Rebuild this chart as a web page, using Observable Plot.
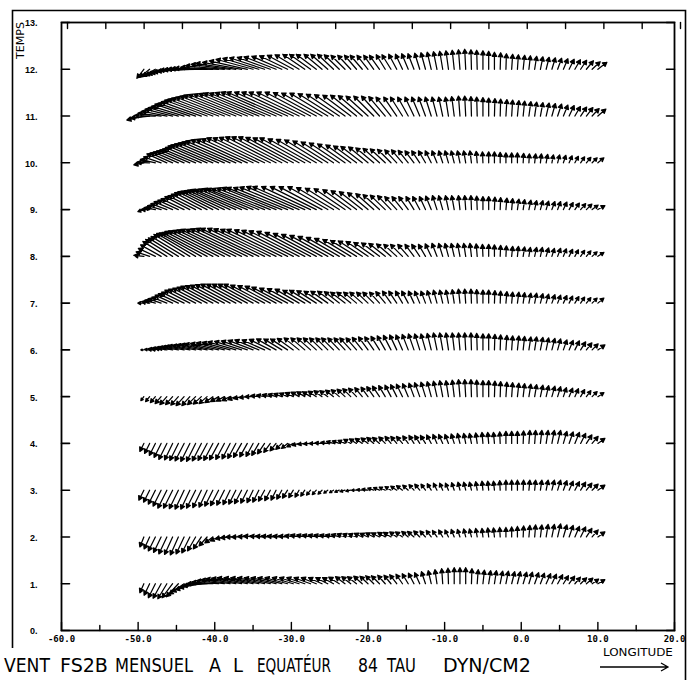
<!DOCTYPE html>
<html><head><meta charset="utf-8">
<script src="https://cdn.jsdelivr.net/npm/d3@7"></script>
<script src="https://cdn.jsdelivr.net/npm/@observablehq/plot@0.6"></script>
<style>body{margin:0;background:#fff}#chart{width:692px;height:680px}</style>
</head><body><div id="chart"></div>
<script>
// Longitudes of the vector tails (degrees east)
const lon = [-49.25,-48.5,-47.75,-47,-46.25,-45.5,-44.75,-44,-43.25,-42.5,-41.75,-41,-40.25,-39.5,-38.75,-38,-37.25,-36.5,-35.75,-35,
-34.25,-33.5,-32.75,-32,-31.25,-30.5,-29.75,-29,-28.25,-27.5,-26.75,-26,-25.25,-24.5,-23.75,-23,-22.25,-21.5,-20.75,-20,
-19.25,-18.5,-17.75,-17,-16.25,-15.5,-14.75,-14,-13.25,-12.5,-11.75,-11,-10.25,-9.5,-8.75,-8,-7.25,-6.5,-5.75,-5,
-4.25,-3.5,-2.75,-2,-1.25,-0.5,0.25,1,1.75,2.5,3.25,4,4.75,5.5,6.25,7,7.75,8.5,9.25,10];
const months = [1,2,3,4,5,6,7,8,9,10,11,12];
// Wind stress components (dyn/cm2): u eastward, v northward, one array per month
const u1 = [-0.4,-0.55,-0.7,-0.8,-0.9,-1.05,-1.2,-1.5,-1.8,-2.0,-2.2,-2.4,-2.6,-2.7,-2.8,-2.9,-3.0,-3.0,-3.0,-2.9,-2.8,-2.7,-2.6,-2.5,-2.4,-2.25,-2.1,-1.95,-1.8,-1.65,-1.5,-1.35,-1.2,-1.1,-1.05,-0.95,-0.9,-0.9,-0.85,-0.8,-0.8,-0.8,-0.75,-0.7,-0.7,-0.65,-0.6,-0.55,-0.5,-0.4,-0.3,-0.2,-0.1,-0.05,0,0,0,0.05,0.1,0.15,0.2,0.2,0.25,0.25,0.3,0.3,0.35,0.35,0.4,0.4,0.45,0.45,0.5,0.5,0.55,0.55,0.6,0.65,0.65,0.7];
const v1 = [-0.9,-1.15,-1.4,-1.45,-1.5,-1.4,-1.3,-1.05,-0.8,-0.6,-0.4,-0.2,0,0.15,0.3,0.4,0.5,0.55,0.6,0.6,0.6,0.6,0.6,0.6,0.6,0.6,0.6,0.6,0.6,0.6,0.6,0.6,0.6,0.6,0.65,0.7,0.7,0.7,0.75,0.75,0.8,0.8,0.85,0.85,0.9,0.95,1.0,1.05,1.1,1.2,1.3,1.4,1.5,1.55,1.6,1.6,1.6,1.5,1.4,1.35,1.3,1.3,1.25,1.25,1.2,1.2,1.15,1.15,1.1,1.05,1.0,0.95,0.9,0.8,0.75,0.65,0.6,0.55,0.45,0.4];
const u2 = [-0.4,-0.55,-0.7,-0.75,-0.8,-0.8,-0.8,-0.8,-0.8,-0.8,-0.8,-0.8,-0.8,-0.85,-0.9,-0.95,-1.0,-1.0,-0.95,-0.95,-0.9,-0.9,-0.9,-0.9,-0.9,-0.9,-0.85,-0.85,-0.8,-0.8,-0.8,-0.8,-0.8,-0.8,-0.8,-0.8,-0.8,-0.8,-0.8,-0.8,-0.8,-0.8,-0.75,-0.75,-0.7,-0.7,-0.65,-0.65,-0.6,-0.55,-0.5,-0.45,-0.4,-0.35,-0.3,-0.25,-0.2,-0.2,-0.15,-0.1,-0.1,-0.1,-0.05,0,0,0,0.05,0.1,0.1,0.15,0.2,0.25,0.3,0.35,0.4,0.45,0.5,0.55,0.6,0.7];
const v2 = [-1.0,-1.2,-1.4,-1.55,-1.7,-1.75,-1.8,-1.7,-1.6,-1.4,-1.2,-0.9,-0.6,-0.4,-0.2,-0.1,0,0,0.05,0.1,0.1,0.1,0.1,0.1,0.1,0.1,0.15,0.2,0.2,0.2,0.2,0.2,0.2,0.2,0.25,0.3,0.3,0.3,0.35,0.35,0.4,0.4,0.45,0.45,0.5,0.5,0.55,0.55,0.6,0.6,0.65,0.65,0.7,0.7,0.75,0.75,0.8,0.8,0.85,0.85,0.9,0.9,0.95,0.95,1.0,1.05,1.1,1.15,1.2,1.2,1.25,1.25,1.3,1.2,1.15,1.05,1.0,0.85,0.7,0.5];
const u3 = [-0.5,-0.6,-0.7,-0.8,-0.9,-0.9,-0.9,-0.9,-0.9,-0.9,-0.85,-0.8,-0.8,-0.8,-0.75,-0.7,-0.7,-0.7,-0.65,-0.6,-0.6,-0.6,-0.55,-0.5,-0.5,-0.5,-0.45,-0.4,-0.4,-0.4,-0.4,-0.4,-0.4,-0.4,-0.45,-0.5,-0.5,-0.5,-0.55,-0.6,-0.6,-0.6,-0.6,-0.6,-0.6,-0.6,-0.55,-0.5,-0.5,-0.45,-0.4,-0.35,-0.3,-0.3,-0.25,-0.2,-0.2,-0.2,-0.15,-0.1,-0.1,-0.1,-0.05,0,0,0,0.05,0.1,0.1,0.15,0.2,0.25,0.3,0.35,0.4,0.45,0.5,0.55,0.6,0.7];
const v3 = [-1.0,-1.2,-1.4,-1.6,-1.8,-1.8,-1.85,-1.9,-1.9,-1.8,-1.75,-1.7,-1.6,-1.55,-1.5,-1.45,-1.4,-1.35,-1.3,-1.25,-1.2,-1.1,-1.05,-1.0,-0.9,-0.8,-0.75,-0.7,-0.6,-0.5,-0.45,-0.4,-0.3,-0.25,-0.2,-0.15,-0.1,0,0.05,0.1,0.2,0.25,0.3,0.35,0.4,0.45,0.5,0.55,0.6,0.6,0.65,0.7,0.7,0.7,0.75,0.8,0.8,0.8,0.85,0.9,0.9,0.9,0.95,1.0,1.0,1.0,1.0,1.0,1.0,1.0,1.0,1.0,1.0,0.95,0.9,0.85,0.8,0.7,0.6,0.5];
const u4 = [-0.4,-0.5,-0.6,-0.7,-0.8,-0.8,-0.85,-0.9,-0.9,-0.9,-0.9,-0.9,-0.9,-0.9,-0.85,-0.8,-0.8,-0.8,-0.75,-0.7,-0.7,-0.7,-0.65,-0.6,-0.6,-0.6,-0.65,-0.7,-0.7,-0.7,-0.7,-0.7,-0.7,-0.7,-0.7,-0.7,-0.7,-0.7,-0.7,-0.7,-0.7,-0.7,-0.65,-0.6,-0.6,-0.6,-0.55,-0.5,-0.5,-0.5,-0.45,-0.4,-0.4,-0.35,-0.3,-0.25,-0.2,-0.2,-0.15,-0.1,-0.1,-0.1,-0.05,0,0,0,0.05,0.1,0.1,0.15,0.2,0.25,0.3,0.35,0.4,0.45,0.5,0.55,0.6,0.7];
const v4 = [-0.8,-1.0,-1.2,-1.4,-1.6,-1.65,-1.7,-1.75,-1.8,-1.8,-1.75,-1.7,-1.7,-1.65,-1.6,-1.55,-1.5,-1.4,-1.35,-1.3,-1.2,-1.05,-0.9,-0.75,-0.6,-0.5,-0.35,-0.2,-0.1,-0.05,0,0.05,0.1,0.2,0.25,0.3,0.4,0.45,0.5,0.55,0.6,0.6,0.65,0.7,0.7,0.7,0.75,0.8,0.8,0.8,0.85,0.9,0.9,0.9,0.95,1.0,1.0,1.0,1.05,1.1,1.1,1.1,1.15,1.2,1.2,1.2,1.25,1.3,1.3,1.3,1.3,1.3,1.3,1.2,1.15,1.1,1.0,0.85,0.7,0.5];
const u5 = [-0.3,-0.4,-0.5,-0.6,-0.7,-0.7,-0.75,-0.8,-0.8,-0.8,-0.8,-0.8,-0.8,-0.8,-0.8,-0.8,-0.8,-0.8,-0.8,-0.8,-0.8,-0.8,-0.8,-0.8,-0.8,-0.8,-0.8,-0.8,-0.8,-0.8,-0.8,-0.8,-0.8,-0.8,-0.8,-0.8,-0.8,-0.8,-0.75,-0.7,-0.7,-0.7,-0.65,-0.6,-0.6,-0.6,-0.55,-0.5,-0.5,-0.45,-0.4,-0.35,-0.3,-0.25,-0.2,-0.15,-0.1,-0.05,-0.05,0,0,0.05,0.05,0.1,0.1,0.15,0.15,0.2,0.2,0.25,0.25,0.3,0.3,0.3,0.35,0.35,0.4,0.45,0.5,0.6];
const v5 = [-0.4,-0.5,-0.6,-0.7,-0.8,-0.8,-0.85,-0.9,-0.9,-0.8,-0.75,-0.7,-0.6,-0.5,-0.45,-0.4,-0.3,-0.2,-0.1,0,0.1,0.15,0.2,0.25,0.3,0.35,0.4,0.45,0.5,0.5,0.55,0.6,0.6,0.65,0.7,0.75,0.8,0.85,0.9,0.95,1.0,1.05,1.1,1.15,1.2,1.25,1.3,1.35,1.4,1.45,1.5,1.55,1.6,1.6,1.65,1.7,1.7,1.7,1.65,1.6,1.6,1.55,1.5,1.45,1.4,1.35,1.3,1.25,1.2,1.15,1.1,1.05,1.0,0.9,0.85,0.8,0.7,0.6,0.5,0.4];
const u6 = [-0.3,-0.5,-0.75,-1.0,-1.2,-1.45,-1.7,-1.95,-2.2,-2.35,-2.5,-2.65,-2.8,-2.8,-2.8,-2.8,-2.8,-2.7,-2.6,-2.5,-2.4,-2.25,-2.1,-1.95,-1.8,-1.7,-1.6,-1.5,-1.4,-1.35,-1.3,-1.25,-1.2,-1.2,-1.15,-1.1,-1.1,-1.05,-1.0,-0.95,-0.9,-0.85,-0.8,-0.75,-0.7,-0.65,-0.6,-0.55,-0.5,-0.45,-0.4,-0.35,-0.3,-0.25,-0.2,-0.15,-0.1,-0.05,-0.05,0,0,0.05,0.05,0.1,0.1,0.15,0.15,0.2,0.2,0.25,0.25,0.3,0.3,0.35,0.4,0.45,0.5,0.55,0.6,0.7];
const v6 = [0,0.05,0.1,0.15,0.2,0.25,0.3,0.35,0.4,0.45,0.5,0.55,0.6,0.65,0.7,0.75,0.8,0.85,0.9,0.95,1.0,1.0,1.05,1.1,1.1,1.1,1.15,1.2,1.2,1.2,1.2,1.2,1.2,1.2,1.2,1.2,1.2,1.2,1.25,1.3,1.3,1.35,1.4,1.45,1.5,1.5,1.55,1.6,1.6,1.6,1.65,1.7,1.7,1.7,1.7,1.7,1.7,1.7,1.65,1.6,1.6,1.55,1.5,1.45,1.4,1.4,1.35,1.3,1.3,1.25,1.2,1.15,1.1,1.0,0.95,0.9,0.8,0.7,0.6,0.5];
const u7 = [-0.6,-0.8,-1.05,-1.3,-1.5,-1.75,-2.0,-2.25,-2.5,-2.7,-2.85,-3.0,-3.2,-3.3,-3.4,-3.45,-3.5,-3.5,-3.5,-3.5,-3.5,-3.4,-3.25,-3.1,-3.0,-2.8,-2.6,-2.4,-2.2,-2.1,-1.95,-1.8,-1.7,-1.6,-1.5,-1.45,-1.4,-1.3,-1.25,-1.15,-1.1,-1.0,-0.95,-0.85,-0.8,-0.7,-0.65,-0.55,-0.5,-0.45,-0.4,-0.35,-0.3,-0.25,-0.2,-0.15,-0.1,-0.05,-0.05,0,0,0.05,0.05,0.1,0.1,0.15,0.15,0.2,0.2,0.25,0.25,0.3,0.3,0.35,0.35,0.4,0.4,0.45,0.5,0.6];
const v7 = [0,0.15,0.3,0.45,0.6,0.8,0.95,1.1,1.3,1.4,1.5,1.6,1.7,1.75,1.8,1.85,1.9,1.9,1.9,1.9,1.9,1.8,1.75,1.7,1.6,1.5,1.45,1.4,1.3,1.3,1.25,1.2,1.2,1.2,1.15,1.1,1.1,1.1,1.1,1.1,1.1,1.1,1.15,1.2,1.2,1.2,1.2,1.2,1.2,1.2,1.25,1.3,1.3,1.3,1.35,1.4,1.4,1.4,1.35,1.3,1.3,1.25,1.2,1.15,1.1,1.1,1.05,1.0,1.0,0.95,0.9,0.85,0.8,0.75,0.7,0.65,0.6,0.55,0.5,0.5];
const u8 = [-1.0,-1.35,-1.7,-2.05,-2.4,-2.7,-3.0,-3.3,-3.6,-3.9,-4.2,-4.5,-4.8,-5.0,-5.15,-5.3,-5.5,-5.55,-5.65,-5.7,-5.8,-5.7,-5.65,-5.55,-5.5,-5.3,-5.15,-5.0,-4.8,-4.55,-4.3,-4.05,-3.8,-3.55,-3.3,-3.05,-2.8,-2.6,-2.4,-2.2,-2.0,-1.8,-1.65,-1.45,-1.3,-1.2,-1.05,-0.9,-0.8,-0.7,-0.6,-0.5,-0.4,-0.35,-0.3,-0.25,-0.2,-0.15,-0.1,-0.05,0,0,0.05,0.05,0.1,0.1,0.15,0.15,0.2,0.2,0.25,0.25,0.3,0.3,0.35,0.35,0.4,0.45,0.5,0.6];
const v8 = [0.1,0.45,0.8,1.15,1.5,1.7,1.85,2.0,2.2,2.3,2.35,2.4,2.5,2.55,2.6,2.65,2.7,2.7,2.75,2.8,2.8,2.8,2.75,2.7,2.7,2.65,2.6,2.55,2.5,2.4,2.3,2.2,2.1,2.0,1.9,1.8,1.7,1.6,1.55,1.5,1.4,1.35,1.3,1.25,1.2,1.2,1.2,1.2,1.2,1.2,1.25,1.3,1.3,1.3,1.3,1.3,1.3,1.3,1.25,1.2,1.2,1.15,1.1,1.05,1.0,1.0,0.95,0.9,0.9,0.9,0.85,0.8,0.8,0.75,0.7,0.65,0.6,0.55,0.45,0.4];
const u9 = [-0.6,-0.85,-1.1,-1.35,-1.6,-1.85,-2.05,-2.3,-2.5,-2.75,-3.0,-3.25,-3.5,-3.75,-4.0,-4.25,-4.5,-4.7,-4.85,-5.0,-5.2,-5.3,-5.35,-5.4,-5.5,-5.4,-5.35,-5.25,-5.2,-4.9,-4.6,-4.3,-4.0,-3.7,-3.4,-3.1,-2.8,-2.55,-2.3,-2.05,-1.8,-1.65,-1.5,-1.35,-1.2,-1.05,-0.95,-0.8,-0.7,-0.6,-0.55,-0.45,-0.4,-0.3,-0.25,-0.15,-0.1,-0.05,-0.05,0,0,0.05,0.05,0.1,0.1,0.15,0.15,0.2,0.2,0.25,0.25,0.3,0.3,0.35,0.4,0.45,0.5,0.55,0.6,0.7];
const v9 = [-0.2,0,0.2,0.4,0.6,0.8,0.95,1.1,1.3,1.4,1.55,1.7,1.8,1.85,1.9,1.95,2.0,2.0,2.05,2.1,2.1,2.1,2.15,2.2,2.2,2.2,2.25,2.3,2.3,2.3,2.3,2.3,2.3,2.2,2.15,2.1,2.0,1.9,1.8,1.7,1.6,1.5,1.45,1.4,1.3,1.3,1.3,1.3,1.3,1.3,1.35,1.4,1.4,1.4,1.4,1.4,1.4,1.4,1.35,1.3,1.3,1.25,1.2,1.15,1.1,1.05,1.0,0.95,0.9,0.9,0.85,0.8,0.8,0.75,0.7,0.65,0.6,0.55,0.45,0.4];
const u10 = [-1.0,-1.25,-1.5,-1.75,-2.0,-2.25,-2.5,-2.75,-3.0,-3.3,-3.6,-3.9,-4.2,-4.4,-4.6,-4.8,-5.0,-5.05,-5.1,-5.15,-5.2,-5.15,-5.1,-5.05,-5.0,-4.9,-4.75,-4.6,-4.5,-4.25,-4.0,-3.75,-3.5,-3.25,-3.0,-2.75,-2.5,-2.3,-2.15,-1.95,-1.8,-1.65,-1.5,-1.35,-1.2,-1.1,-1.0,-0.9,-0.8,-0.7,-0.6,-0.5,-0.4,-0.35,-0.3,-0.25,-0.2,-0.15,-0.1,-0.05,0,0,0,0,0,0,0.05,0.05,0.1,0.1,0.15,0.15,0.2,0.25,0.3,0.35,0.4,0.45,0.5,0.6];
const v10 = [-0.2,0.05,0.35,0.6,0.9,1.0,1.1,1.2,1.3,1.4,1.55,1.7,1.8,1.9,2.0,2.1,2.2,2.3,2.35,2.4,2.5,2.5,2.55,2.6,2.6,2.6,2.55,2.5,2.5,2.4,2.35,2.3,2.2,2.1,2.0,1.9,1.8,1.7,1.65,1.6,1.5,1.45,1.4,1.35,1.3,1.3,1.25,1.2,1.2,1.2,1.2,1.2,1.2,1.2,1.2,1.2,1.2,1.2,1.15,1.1,1.1,1.1,1.05,1.0,1.0,1.0,0.95,0.9,0.9,0.9,0.85,0.8,0.8,0.75,0.7,0.65,0.6,0.55,0.5,0.5];
const u11 = [-1.7,-1.9,-2.1,-2.3,-2.5,-2.75,-3.0,-3.25,-3.5,-3.75,-4.0,-4.25,-4.5,-4.7,-4.85,-5.0,-5.2,-5.3,-5.35,-5.4,-5.5,-5.5,-5.5,-5.5,-5.5,-5.3,-5.15,-5.0,-4.8,-4.55,-4.3,-4.05,-3.8,-3.55,-3.3,-3.05,-2.8,-2.6,-2.4,-2.2,-2.0,-1.8,-1.65,-1.5,-1.3,-1.2,-1.05,-0.9,-0.8,-0.7,-0.6,-0.5,-0.4,-0.3,-0.25,-0.15,-0.1,-0.05,-0.05,0,0,0.05,0.05,0.1,0.1,0.15,0.15,0.2,0.2,0.25,0.3,0.35,0.4,0.45,0.5,0.55,0.6,0.65,0.7,0.8];
const v11 = [-0.4,-0.2,0.05,0.3,0.5,0.7,0.85,1.0,1.2,1.3,1.45,1.6,1.7,1.8,1.9,2.0,2.1,2.15,2.2,2.25,2.3,2.3,2.35,2.4,2.4,2.4,2.4,2.4,2.4,2.4,2.35,2.3,2.3,2.25,2.2,2.15,2.1,2.1,2.05,2.0,2.0,2.0,1.95,1.9,1.9,1.9,1.9,1.9,1.9,1.9,1.9,1.9,1.9,1.9,1.95,2.0,2.0,1.95,1.9,1.85,1.8,1.75,1.7,1.65,1.6,1.55,1.5,1.45,1.4,1.35,1.3,1.25,1.2,1.1,1.05,0.95,0.9,0.85,0.75,0.7];
const u12 = [-0.7,-1.0,-1.3,-1.6,-1.9,-2.2,-2.5,-2.7,-3.0,-3.2,-3.4,-3.6,-3.8,-3.8,-3.9,-3.9,-4.0,-3.9,-3.8,-3.7,-3.6,-3.5,-3.3,-3.2,-3.0,-2.8,-2.6,-2.4,-2.2,-2.1,-2.0,-1.8,-1.7,-1.6,-1.5,-1.4,-1.3,-1.2,-1.2,-1.1,-1.0,-1.0,-0.9,-0.9,-0.8,-0.7,-0.65,-0.6,-0.5,-0.45,-0.4,-0.35,-0.3,-0.25,-0.2,-0.15,-0.1,-0.05,-0.05,0,0,0,0.05,0.05,0.1,0.1,0.15,0.15,0.2,0.25,0.3,0.35,0.4,0.45,0.5,0.55,0.6,0.7,0.8,0.9];
const v12 = [-0.9,-0.8,-0.7,-0.6,-0.5,-0.4,-0.3,-0.2,-0.1,-0.05,0,0.05,0.1,0.2,0.35,0.5,0.6,0.7,0.85,1.0,1.1,1.15,1.2,1.25,1.3,1.35,1.4,1.45,1.5,1.5,1.5,1.5,1.5,1.5,1.45,1.4,1.4,1.4,1.4,1.4,1.4,1.4,1.45,1.45,1.5,1.5,1.55,1.55,1.6,1.65,1.7,1.75,1.8,1.85,1.9,1.95,2.0,1.95,1.9,1.85,1.8,1.7,1.65,1.55,1.5,1.45,1.4,1.35,1.3,1.25,1.2,1.15,1.1,1.05,1.0,0.95,0.9,0.85,0.75,0.7];
// Axis ticks
const yTicks = [0,1,2,3,4,5,6,7,8,9,10,11,12,13];
const xMajor = [-60,-50,-40,-30,-20,-10,0,10,20];
const xMinor = [-55,-45,-35,-25,-15,-5,5,15];

const uRows = [u1,u2,u3,u4,u5,u6,u7,u8,u9,u10,u11,u12];
const vRows = [v1,v2,v3,v4,v5,v6,v7,v8,v9,v10,v11,v12];
const stress = months.flatMap((m, r) => lon.map((x, i) => ({lon: x, month: m, u: uRows[r][i], v: vRows[r][i]})));

const arrowShape = {
  draw(ctx, l) {
    const h = Math.min(4, l * 0.45), w = h * 0.55;
    ctx.moveTo(0, 0);
    ctx.lineTo(0, -l);
    ctx.moveTo(0, -l);
    ctx.lineTo(-w, -l + h);
    ctx.lineTo(w, -l + h);
    ctx.closePath();
  }
};
const tickShape = {draw(ctx, l) { ctx.moveTo(0, 0); ctx.lineTo(0, -l); }};

const plot = Plot.plot({
  width: 692, height: 680,
  marginLeft: 61, marginRight: 18, marginTop: 22, marginBottom: 50,
  x: {domain: [-60, 20], axis: null},
  y: {domain: [0, 13], axis: null},
  length: {domain: [0, 10], range: [0, 100]},
  style: {background: "white", fontFamily: "DejaVu Sans", fontSize: "9px"},
  marks: [
    Plot.vector(stress, {x: "lon", y: "month",
      rotate: d => Math.atan2(d.u, d.v) * 180 / Math.PI,
      length: d => Math.hypot(d.u, d.v),
      anchor: "start", shape: arrowShape, stroke: "black", fill: "black", strokeWidth: 1.25}),
    Plot.frame({stroke: "black", strokeWidth: 1.8}),
    Plot.vector(yTicks, {x: -60, y: d => d, rotate: 90, length: 8, anchor: "start", shape: tickShape, stroke: "black", strokeWidth: 1.6}),
    Plot.vector(yTicks, {x: 20, y: d => d, rotate: -90, length: 8, anchor: "start", shape: tickShape, stroke: "black", strokeWidth: 1.6}),
    Plot.vector(xMajor, {x: d => d, y: 0, rotate: 0, length: 8, anchor: "start", shape: tickShape, stroke: "black", strokeWidth: 1.4}),
    Plot.vector(xMinor, {x: d => d, y: 0, rotate: 0, length: 5, anchor: "start", shape: tickShape, stroke: "black", strokeWidth: 1.4}),
    Plot.vector(xMajor.concat(xMinor), {x: d => d, y: 13, rotate: 180, length: 6, anchor: "start", shape: tickShape, stroke: "black", strokeWidth: 1.4, dx: 6}),
    Plot.text(yTicks, {x: -60, y: d => d, text: d => `${d}.`, dx: -24, dy: 1, textAnchor: "end",
      fontFamily: "Liberation Sans", fontWeight: "bold", fontSize: 9, fill: "black"}),
    Plot.text(xMajor, {x: d => d, y: 0, text: d => d.toFixed(1), dy: 9,
      fontFamily: "DejaVu Sans Mono", fontWeight: "bold", fontSize: 9, fill: "black"})
  ]
});
document.getElementById("chart").append(plot);

const svg = d3.select(plot);
svg.append("path").attr("d", "M12.5,648V10.5H685.5V680").attr("fill", "none").attr("stroke", "black").attr("stroke-width", 1.6);
svg.append("path").attr("d", "M600,667H668M661,663L668,667L661,671").attr("fill", "none").attr("stroke", "black").attr("stroke-width", 1.3);

// Narrow plotter-style lettering: each word is scaled horizontally to its width in the reference
function narrowText(t, x, y, w, size, rotate = 0) {
  const g = svg.append("g");
  const txt = g.append("text").attr("x", 0).attr("y", 0).attr("text-anchor", "start")
    .attr("font-family", "DejaVu Sans").attr("font-size", size).attr("fill", "black").text(t);
  const natural = txt.node().getComputedTextLength() || w;
  const sx = w / natural;
  if (rotate) g.attr("transform", `translate(${x},${y}) rotate(${rotate}) scale(${sx},1)`);
  else g.attr("transform", `translate(${x},${y}) scale(${sx},1)`);
}
narrowText("TEMPS", 24, 59, 37, 11, -90);
narrowText("LONGITUDE", 603, 656, 70, 11);
const words = [["VENT", 4, 46], ["FS2B", 60, 48], ["MENSUEL", 115, 78], ["A", 209, 12], ["L", 233, 10],
  ["EQUATÉUR", 257, 74], ["84", 358, 20], ["TAU", 387, 29], ["DYN/CM2", 443, 88]];
for (const [t, x, w] of words) narrowText(t, x, 672, w, 20);
</script>
</body></html>
